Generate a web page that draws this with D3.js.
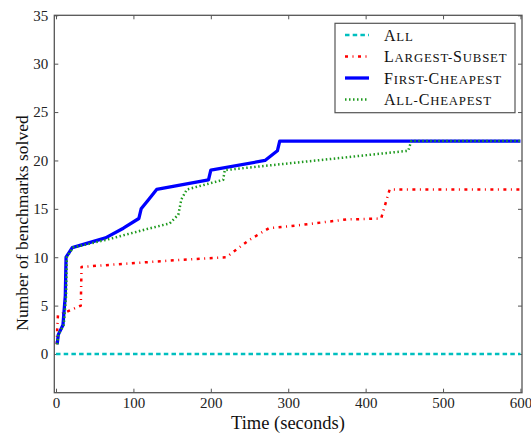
<!DOCTYPE html>
<html>
<head>
<meta charset="utf-8">
<script src="https://cdn.jsdelivr.net/npm/d3@7"></script>
<style>
  html, body { margin: 0; padding: 0; background: #fff; }
  svg { display: block; }
</style>
</head>
<body>
<svg id="chart" width="531" height="434"></svg>
<script>
// Benchmarks solved over time for each selection strategy: [seconds, solved]
const seriesNames = ["All", "Largest-Subset", "First-Cheapest", "All-Cheapest"];

const allPoints = [[0, 0], [600, 0]];

const largestSubsetPoints = [
  [1, 1], [1.5, 2.5], [2.5, 4], [18, 4.5], [32, 5], [33, 9],
  [155, 9.7], [220, 10], [250, 11.8], [275, 13], [313, 13.3],
  [375, 13.9], [420, 14], [431, 17], [600, 17]
];

const firstCheapestPoints = [
  [1.5, 1], [3, 2], [9, 3], [12, 6], [13, 10], [21, 11], [64, 12],
  [87, 13], [107, 14], [110, 15], [120, 16], [130, 17], [160, 17.45],
  [197, 18], [200, 19], [270, 20], [286, 21], [289, 22], [600, 22]
];

const allCheapestPoints = [
  [1.5, 1], [3, 2], [10, 3], [13, 6], [14, 10], [22, 11], [65, 11.8],
  [117, 12.9], [147, 13.5], [158, 14.4], [162, 16], [169, 17],
  [216, 18], [218, 19], [455, 21], [459, 22], [600, 22]
];

const xTicks = [0, 100, 200, 300, 400, 500, 600];
const yTicks = [0, 5, 10, 15, 20, 25, 30, 35];
const xLabel = "Time (seconds)";
const yLabel = "Number of benchmarks solved";

const FONT = '"Liberation Serif", "DejaVu Serif", serif';

const styles = [
  { data: allPoints, color: "#00bfbf", width: 2.5, dash: "4.5,3.2" },
  { data: largestSubsetPoints, color: "#ff0000", width: 2.5, dash: "3,4.5,1,4.5" },
  { data: firstCheapestPoints, color: "#0000ff", width: 3.3, dash: null },
  { data: allCheapestPoints, color: "#1f9a1f", width: 2.5, dash: "1.5,2.5" }
];

const svg = d3.select("#chart");
const plot = { left: 54.3, right: 522, top: 15.3, bottom: 392.7 };

const x = d3.scaleLinear().domain([-2.2, 602]).range([plot.left, plot.right]);
const y = d3.scaleLinear().domain([-4, 35]).range([plot.bottom, plot.top]);

const axisColor = "#555";
const tickLen = 4;

// Axes: ticks point inward on all four sides, labels only bottom/left
function styleAxis(g) {
  g.attr("font-family", FONT).attr("font-size", 15);
  g.select(".domain").remove();
  g.selectAll(".tick line").attr("stroke", axisColor).attr("stroke-width", 1);
  g.selectAll(".tick text").attr("fill", "#222");
}

svg.append("g")
  .attr("transform", `translate(0,${plot.bottom})`)
  .call(d3.axisBottom(x).tickValues(xTicks).tickSize(-tickLen).tickPadding(5))
  .call(styleAxis);

svg.append("g")
  .attr("transform", `translate(0,${plot.top})`)
  .call(d3.axisTop(x).tickValues(xTicks).tickSize(-tickLen).tickFormat(""))
  .call(styleAxis);

svg.append("g")
  .attr("transform", `translate(${plot.left},0)`)
  .call(d3.axisLeft(y).tickValues(yTicks).tickSize(-tickLen).tickPadding(6))
  .call(styleAxis);

svg.append("g")
  .attr("transform", `translate(${plot.right},0)`)
  .call(d3.axisRight(y).tickValues(yTicks).tickSize(-tickLen).tickFormat(""))
  .call(styleAxis);

// Lines
const line = d3.line().x(d => x(d[0])).y(d => y(d[1]));
svg.append("clipPath").attr("id", "plotClip")
  .append("rect")
  .attr("x", plot.left).attr("y", plot.top)
  .attr("width", plot.right - plot.left).attr("height", plot.bottom - plot.top);

const linesG = svg.append("g").attr("clip-path", "url(#plotClip)");
styles.forEach(s => {
  linesG.append("path")
    .datum(s.data)
    .attr("d", line)
    .attr("fill", "none")
    .attr("stroke", s.color)
    .attr("stroke-width", s.width)
    .attr("stroke-linejoin", "round")
    .attr("stroke-dasharray", s.dash);
});

// Frame
svg.append("rect")
  .attr("x", plot.left).attr("y", plot.top)
  .attr("width", plot.right - plot.left).attr("height", plot.bottom - plot.top)
  .attr("fill", "none").attr("stroke", axisColor).attr("stroke-width", 1.3);

// Axis titles
svg.append("text")
  .attr("x", 288).attr("y", 429)
  .attr("text-anchor", "middle")
  .attr("font-family", FONT)
  .attr("font-size", 18.5)
  .attr("fill", "#111")
  .text(xLabel);

svg.append("text")
  .attr("transform", "translate(28,223) rotate(-90)")
  .attr("text-anchor", "middle")
  .attr("font-family", FONT)
  .attr("font-size", 17.5)
  .attr("fill", "#111")
  .text(yLabel);

// Legend
const legend = svg.append("g");
legend.append("rect")
  .attr("x", 335).attr("y", 23.3).attr("width", 180).attr("height", 89.4)
  .attr("fill", "#fff").attr("stroke", axisColor).attr("stroke-width", 1.2);

// Small-caps labels: capitals full size, remaining letters as smaller capitals
function smallCaps(textSel, str) {
  const parts = str.match(/[A-Z]|[^A-Z]+/g);
  parts.forEach(p => {
    const big = /^[A-Z]$/.test(p);
    textSel.append("tspan")
      .attr("font-size", big ? 16 : 12.8)
      .text(big ? p : p.toUpperCase());
  });
}

const rowY = [35, 56.5, 78, 99.5];
seriesNames.forEach((name, i) => {
  const s = styles[i];
  legend.append("line")
    .attr("x1", 345).attr("x2", 369)
    .attr("y1", rowY[i]).attr("y2", rowY[i])
    .attr("stroke", s.color)
    .attr("stroke-width", s.width)
    .attr("stroke-dasharray", s.dash);
  const t = legend.append("text")
    .attr("x", 384).attr("y", rowY[i] + 5.5)
    .attr("font-family", FONT)
    .attr("letter-spacing", 0.8)
    .attr("fill", "#111");
  smallCaps(t, name);
});
</script>
</body>
</html>
